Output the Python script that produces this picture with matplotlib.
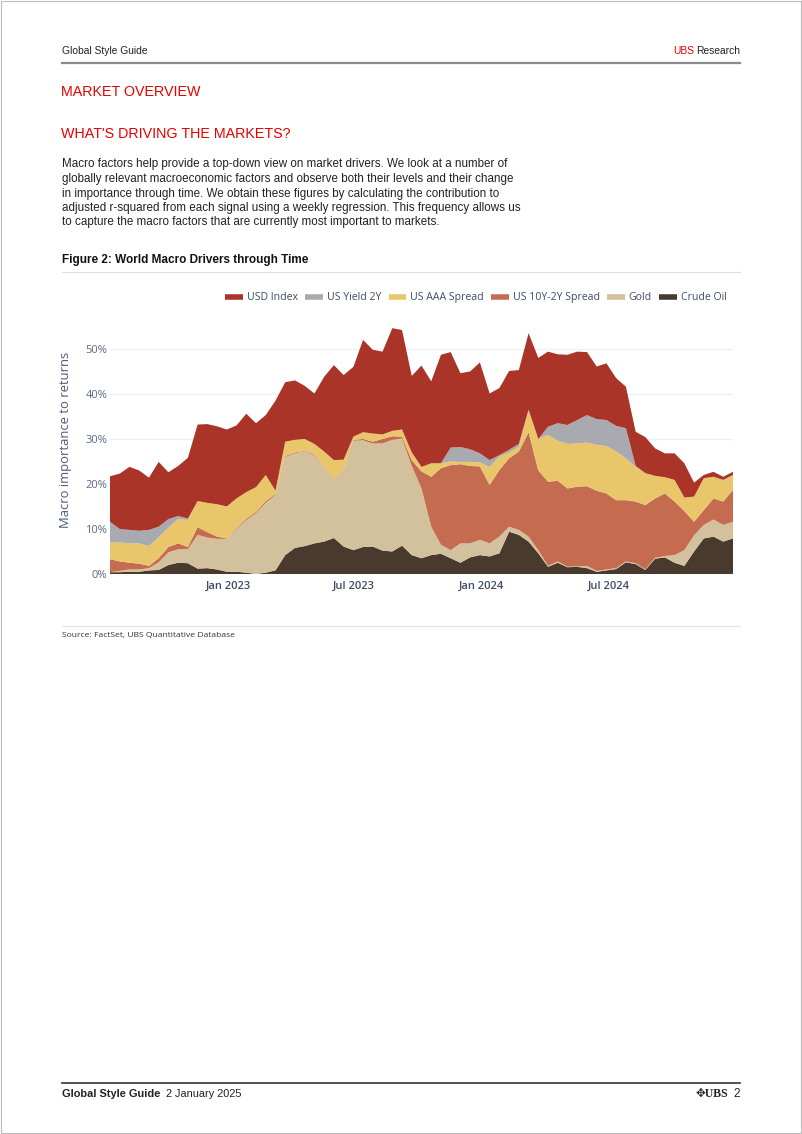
import numpy as np
import pandas as pd
import matplotlib
matplotlib.use("Agg")
import matplotlib.pyplot as plt
from matplotlib.lines import Line2D
from matplotlib.ticker import FuncFormatter

W, H = 802, 1134

dates = pd.date_range("2022-07-15", periods=65, freq="14D")

crude_oil = [0.4, 0.4, 0.5, 0.5, 0.8, 0.9, 2.0, 2.5, 2.4, 1.2, 1.3, 1.0, 0.5, 0.5, 0.3, 0.0,
             0.3, 0.8, 4.2, 5.8, 6.2, 6.8, 7.2, 8.0, 6.1, 5.3, 6.0, 6.1, 5.2, 5.0, 6.3, 4.2,
             3.5, 4.2, 4.5, 3.5, 2.5, 3.7, 4.2, 3.9, 4.6, 9.4, 8.7, 7.2, 4.6, 1.6, 2.5, 1.5,
             1.6, 1.3, 0.5, 0.8, 1.1, 2.6, 2.2, 0.9, 3.4, 3.7, 2.5, 1.8, 5.0, 7.9, 8.3, 7.2, 7.9]
gold = [0.0, 0.3, 0.5, 0.5, 0.5, 1.7, 2.8, 3.0, 3.1, 7.5, 6.8, 6.8, 7.3, 9.5, 11.7, 13.5,
        15.5, 16.8, 21.8, 21.0, 21.1, 19.6, 16.6, 12.9, 17.0, 24.3, 23.7, 22.9, 23.8, 24.8, 23.8, 19.8,
        15.5, 6.3, 2.0, 1.8, 4.3, 3.1, 3.4, 2.9, 3.7, 1.1, 1.1, 1.1, 0.7, 0.2, 0.3, 0.1,
        0.1, 0.5, 0.2, 0.2, 0.2, 0.2, 0.2, 0.1, 0.2, 0.3, 1.7, 3.5, 3.6, 3.0, 3.8, 3.7, 3.7]
us_10y_2y = [2.9, 2.1, 1.5, 1.3, 0.5, 0.9, 1.2, 1.3, 0.5, 1.7, 1.2, 0.5, 0.1, 0.2, 0.3, 0.3,
             0.4, 0.2, 0.2, 0.2, 0.1, 0.2, 0.1, 0.1, 0.1, 0.2, 0.3, 0.4, 1.0, 0.8, 0.4, 1.3,
             3.8, 11.1, 17.0, 18.9, 17.6, 17.2, 16.3, 13.0, 14.8, 15.2, 17.4, 23.2, 17.7, 18.7, 17.9, 17.4,
             17.7, 17.7, 17.8, 16.9, 15.1, 13.6, 13.7, 14.3, 13.2, 13.9, 11.9, 8.7, 3.0, 3.3, 4.7, 5.2, 7.1]
us_aaa = [3.7, 4.2, 4.3, 4.5, 4.4, 4.7, 4.3, 5.4, 6.0, 5.8, 6.5, 7.2, 7.1, 6.6, 5.9, 5.5,
          5.8, 0.7, 3.2, 2.8, 2.6, 2.3, 3.3, 4.3, 2.2, 0.7, 1.5, 1.8, 1.0, 1.2, 1.6, 1.7,
          1.0, 3.0, 1.1, 0.8, 0.5, 0.9, 0.9, 4.0, 3.0, 1.3, 1.1, 5.0, 7.0, 10.4, 8.9, 9.9,
          9.6, 9.7, 10.2, 10.5, 10.8, 9.3, 7.7, 7.1, 5.0, 3.6, 4.8, 3.0, 5.6, 7.1, 4.8, 4.8, 3.3]
us_yield_2y = [4.6, 3.0, 3.0, 2.8, 3.6, 2.3, 1.9, 0.7, 0.3, 0.0, 0.0, 0.0, 0.0, 0.0, 0.0, 0.0,
               0.0, 0.0, 0.0, 0.0, 0.0, 0.0, 0.0, 0.0, 0.0, 0.0, 0.0, 0.0, 0.0, 0.0, 0.0, 0.0,
               0.0, 0.0, 0.0, 3.1, 3.3, 2.8, 2.0, 1.5, 0.3, 0.6, 0.6, 0.0, 0.0, 1.8, 3.9, 4.2,
               5.2, 6.1, 5.7, 5.8, 5.7, 6.7, 0.2, 0.0, 0.0, 0.0, 0.0, 0.0, 0.0, 0.0, 0.0, 0.0, 0.0]
usd_index = [10.1, 12.3, 14.0, 13.4, 11.6, 14.4, 10.4, 11.1, 13.5, 17.0, 17.5, 17.3, 17.1, 16.2, 17.4, 14.2,
             13.3, 20.0, 13.2, 13.2, 11.8, 11.2, 16.6, 21.1, 18.8, 15.5, 20.5, 18.6, 18.4, 22.8, 22.1, 17.0,
             22.5, 18.2, 24.1, 21.2, 16.4, 17.3, 20.2, 14.8, 14.9, 17.5, 16.4, 17.0, 18.0, 16.7, 15.3, 15.6,
             15.2, 14.0, 11.7, 12.6, 10.6, 9.2, 7.6, 8.0, 6.1, 5.3, 5.9, 7.6, 3.1, 0.7, 1.1, 0.7, 0.7]

# stacking order bottom -> top
series_names = ["Crude Oil", "Gold", "US 10Y-2Y Spread", "US AAA Spread", "US Yield 2Y", "USD Index"]
series_colors = ["#4A3A2E", "#D3C09D", "#C56C50", "#E9C669", "#A9AAB0", "#A93427"]

x_ticks = pd.to_datetime(["2023-01-01", "2023-07-01", "2024-01-01", "2024-07-01"])
x_tick_labels = ["Jan 2023", "Jul 2023", "Jan 2024", "Jul 2024"]

DOC = ["Liberation Sans", "DejaVu Sans"]
CHART = ["Open Sans", "DejaVu Sans"]
RED = "#E60000"
TXT = "#222222"


def fx(x):
    return x / W


def fy(y):
    return 1 - y / H


fig = plt.figure(figsize=(W / 100, H / 100), dpi=100)
renderer = fig.canvas.get_renderer()


def right_of(txt, gap):
    bb = txt.get_window_extent(renderer)
    return bb.x1 / 100 / (W / 100) + gap / W


def left_of(txt, gap):
    bb = txt.get_window_extent(renderer)
    return bb.x0 / W - gap / W


# page header
fig.text(fx(62), fy(51), "Global Style Guide", family=DOC, fontsize=7.4, color=TXT, va="center")
research = fig.text(fx(740), fy(51), "Research", family=DOC, fontsize=7.4, color=TXT, va="center", ha="right")
fig.text(left_of(research, 2), fy(51), "UBS", family=DOC, fontsize=7.4, color=RED, va="center", ha="right")
fig.add_artist(Line2D([fx(62), fx(740)], [fy(62.8), fy(62.8)], color="#8C8C8C", lw=1.6))

fig.text(fx(61), fy(91.5), "MARKET OVERVIEW", family=DOC, fontsize=10.3, color=RED, va="center")
fig.text(fx(61), fy(134.5), "WHAT'S DRIVING THE MARKETS?", family=DOC, fontsize=10.3, color=RED, va="center")

para = [
    "Macro factors help provide a top-down view on market drivers. We look at a number of",
    "globally relevant macroeconomic factors and observe both their levels and their change",
    "in importance through time. We obtain these figures by calculating the contribution to",
    "adjusted r-squared from each signal using a weekly regression. This frequency allows us",
    "to capture the macro factors that are currently most important to markets.",
]
for k, line in enumerate(para):
    fig.text(fx(62), fy(164.5 + k * 14.5), line, family=DOC, fontsize=8.4, color=TXT, va="center")

fig.text(fx(62), fy(260), "Figure 2: World Macro Drivers through Time", family=DOC, fontsize=8.5,
         fontweight="bold", color="#111111", va="center")
fig.add_artist(Line2D([fx(62), fx(740)], [fy(271.5), fy(271.5)], color="#DDDDDD", lw=0.8))

# chart
ax = fig.add_axes([fx(110), fy(574), fx(733) - fx(110), (574 - 321) / H])
values = [crude_oil, gold, us_10y_2y, us_aaa, us_yield_2y, usd_index]
ax.stackplot(dates, *values, colors=series_colors, linewidth=0)
ax.set_xlim(dates[0], dates[-1])
ax.set_ylim(0, 56.2)
ax.set_yticks([0, 10, 20, 30, 40, 50])
ax.yaxis.set_major_formatter(FuncFormatter(lambda v, p: f"{v:.0f}%"))
ax.set_xticks(x_ticks)
ax.set_xticklabels(x_tick_labels)
ax.grid(axis="y", color="#EEF0F4", lw=0.9)
ax.set_axisbelow(True)
for s in ax.spines.values():
    s.set_visible(False)
ax.tick_params(length=0, pad=2)
for lab in ax.get_yticklabels():
    lab.set_family(CHART)
    lab.set_fontsize(8)
    lab.set_color("#5A6885")
for lab in ax.get_xticklabels():
    lab.set_family(CHART)
    lab.set_fontsize(8)
    lab.set_fontweight("semibold")
    lab.set_color("#3E4C69")
ax.tick_params(axis="x", pad=5)
ax.set_ylabel("Macro importance to returns", family=CHART, fontsize=9.4, color="#4C5B78")
ax.yaxis.set_label_coords((72 - 110) / 623, (574 - 440) / 253)

handles = [Line2D([], [], color=c, lw=4, solid_capstyle="butt") for c in series_colors[::-1]]
fig.legend(handles, series_names[::-1], loc="center", bbox_to_anchor=(fx(476), fy(298)),
           ncol=6, frameon=False, handlelength=1.7, handletextpad=0.35, columnspacing=0.7,
           prop={"family": CHART, "size": 7.6}, labelcolor="#3E4C69")

fig.add_artist(Line2D([fx(62), fx(740)], [fy(626), fy(626)], color="#E3E3E3", lw=0.8))
fig.text(fx(62), fy(636), "Source: FactSet, UBS Quantitative Database", family=CHART, fontsize=6.1,
         color="#333333", va="center")

# footer
fig.add_artist(Line2D([fx(62), fx(740)], [fy(1083), fy(1083)], color="#333333", lw=1.2))
gsg = fig.text(fx(62), fy(1094), "Global Style Guide", family=DOC, fontsize=7.9, fontweight="bold",
               color=TXT, va="center")
fig.text(right_of(gsg, 6), fy(1094), "2 January 2025", family=DOC, fontsize=7.9, color=TXT, va="center")
page = fig.text(fx(740), fy(1094), "2", family=DOC, fontsize=8.5, color=TXT, va="center", ha="right")
fig.text(left_of(page, 5), fy(1094), "\u2725UBS", family=["Liberation Serif", "DejaVu Sans"], fontsize=8.5,
         fontweight="bold", color=TXT, va="center", ha="right")

# page frame
fig.add_artist(plt.Rectangle((0.001, 0.001), 0.998, 0.998, transform=fig.transFigure,
                             fill=False, ec="#BBBBBB", lw=0.8))

fig.savefig("out.png", dpi=100)
